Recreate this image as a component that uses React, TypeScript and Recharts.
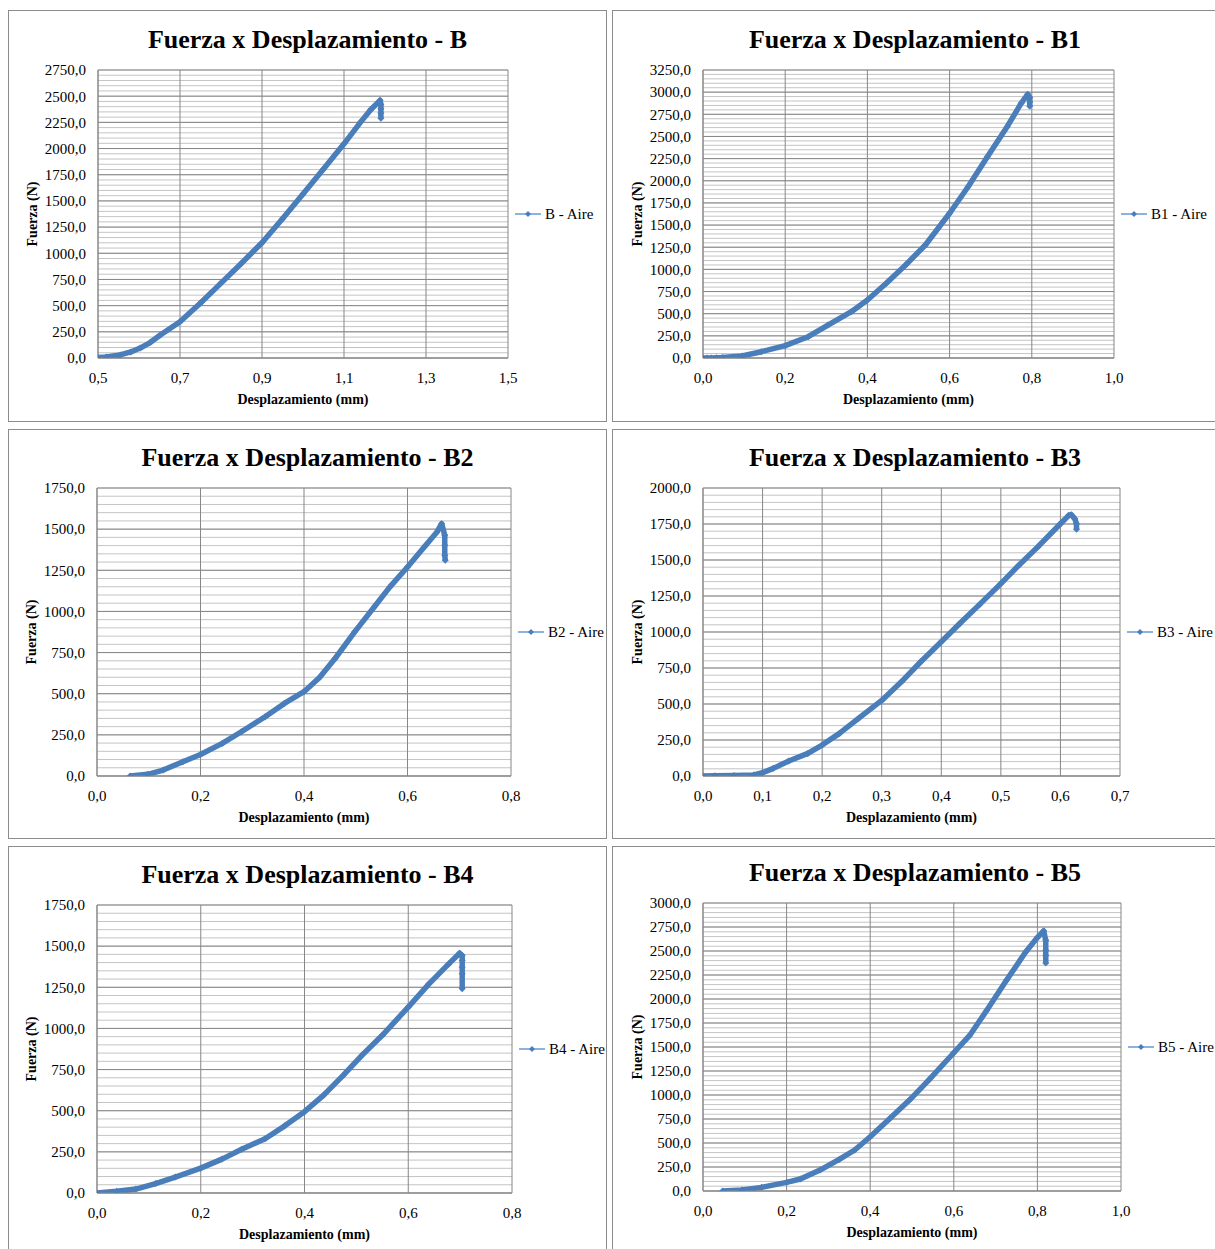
import React from 'react';
import { CartesianGrid, Legend, Line, LineChart, XAxis, YAxis } from 'recharts';

const FONT = '"Liberation Serif", "Times New Roman", serif';
const BLUE = '#4a7ebb';
const LIGHT_BLUE = '#8eb2de';
const MAJOR = '#878787';
const MINOR = '#c4c4c4';

// values (displacement in mm, force in N)
const bX = [0.5, 0.52, 0.554, 0.58, 0.603, 0.628, 0.652, 0.7, 0.75, 0.8, 0.85, 0.9, 0.95, 1.0, 1.05, 1.1, 1.14, 1.165, 1.188, 1.19, 1.19, 1.19, 1.19];
const bF = [5, 10, 29, 58, 95, 150, 220, 347, 525, 715, 905, 1101, 1330, 1565, 1805, 2045, 2250, 2370, 2460, 2420, 2380, 2340, 2290];

const b1X = [0, 0.01, 0.02, 0.033, 0.047, 0.095, 0.142, 0.2, 0.256, 0.304, 0.361, 0.4, 0.446, 0.493, 0.541, 0.6, 0.645, 0.692, 0.74, 0.774, 0.79, 0.795, 0.795, 0.795];
const b1F = [0, 0, 0, 3, 5, 23, 71, 139, 240, 372, 523, 655, 843, 1050, 1275, 1633, 1933, 2272, 2610, 2874, 2976, 2940, 2890, 2840];

const b2X = [0.064, 0.098, 0.128, 0.166, 0.2, 0.242, 0.279, 0.325, 0.362, 0.4, 0.43, 0.46, 0.498, 0.536, 0.566, 0.6, 0.634, 0.657, 0.666, 0.672, 0.672, 0.672, 0.673];
const b2F = [0, 10, 36, 87, 131, 198, 269, 360, 441, 512, 599, 714, 876, 1028, 1149, 1270, 1398, 1483, 1533, 1463, 1402, 1341, 1311];

const b3X = [0, 0.02, 0.052, 0.085, 0.1, 0.118, 0.144, 0.176, 0.2, 0.229, 0.261, 0.3, 0.333, 0.366, 0.4, 0.431, 0.464, 0.5, 0.529, 0.562, 0.6, 0.614, 0.618, 0.624, 0.627, 0.627];
const b3F = [0, 1, 3, 7, 23, 53, 104, 157, 215, 296, 400, 525, 654, 795, 932, 1059, 1190, 1336, 1459, 1591, 1752, 1810, 1815, 1787, 1752, 1713];

const b4X = [0, 0.038, 0.075, 0.113, 0.151, 0.2, 0.241, 0.279, 0.324, 0.362, 0.4, 0.437, 0.475, 0.512, 0.55, 0.6, 0.64, 0.678, 0.699, 0.704, 0.704, 0.704, 0.704, 0.704];
const b4F = [0, 10, 24, 57, 97, 151, 206, 266, 330, 408, 494, 595, 716, 841, 958, 1130, 1271, 1392, 1457, 1443, 1413, 1372, 1332, 1241];

const b5X = [0.047, 0.093, 0.14, 0.2, 0.233, 0.28, 0.326, 0.363, 0.4, 0.447, 0.494, 0.54, 0.6, 0.638, 0.679, 0.726, 0.772, 0.8, 0.815, 0.82, 0.82, 0.82, 0.82];
const b5F = [0, 10, 38, 90, 125, 218, 329, 427, 565, 756, 947, 1155, 1440, 1620, 1883, 2195, 2490, 2640, 2709, 2611, 2507, 2455, 2376];

const xTicksB = [0.5, 0.7, 0.9, 1.1, 1.3, 1.5];
const xTicks10 = [0, 0.2, 0.4, 0.6, 0.8, 1.0];
const xTicks08 = [0, 0.2, 0.4, 0.6, 0.8];
const xTicks07 = [0, 0.1, 0.2, 0.3, 0.4, 0.5, 0.6, 0.7];

const names = ['B', 'B1', 'B2', 'B3', 'B4', 'B5'];
const yMaxes = [2750, 3250, 1750, 2000, 1750, 3000];

const series = [
  { xs: bX, fs: bF, xTicks: xTicksB },
  { xs: b1X, fs: b1F, xTicks: xTicks10 },
  { xs: b2X, fs: b2F, xTicks: xTicks08 },
  { xs: b3X, fs: b3F, xTicks: xTicks07 },
  { xs: b4X, fs: b4F, xTicks: xTicks08 },
  { xs: b5X, fs: b5F, xTicks: xTicks10 },
];

// page geometry: panel box and plot area [left, right, top, bottom], title centre y
const layouts = [
  { left: 8, top: 10, width: 599, height: 412, plot: [98, 508, 70, 358], titleY: 40 },
  { left: 612, top: 10, width: 606, height: 412, plot: [703, 1114, 70, 358], titleY: 40 },
  { left: 8, top: 429, width: 599, height: 410, plot: [97, 511, 488, 776], titleY: 458 },
  { left: 612, top: 429, width: 606, height: 410, plot: [703, 1120, 488, 776], titleY: 458 },
  { left: 8, top: 846, width: 599, height: 410, plot: [97, 512, 905, 1193], titleY: 875 },
  { left: 612, top: 846, width: 606, height: 410, plot: [703, 1121, 903, 1191], titleY: 873 },
];

const fmt = (v: number) => v.toFixed(1).replace('.', ',');

const range = (max: number, step: number) => {
  const out: number[] = [];
  for (let v = 0; v <= max + 0.001; v += step) out.push(v);
  return out;
};

const Diamond = (props: any) => {
  const { cx, cy, index } = props;
  if (cx == null || cy == null) return <g key={index} />;
  return <path key={index} d={`M${cx},${cy - 3.5} L${cx + 3.5},${cy} L${cx},${cy + 3.5} L${cx - 3.5},${cy} Z`} fill={BLUE} />;
};

function Panel({ idx }: { idx: number }) {
  const lay = layouts[idx];
  const s = series[idx];
  const name = names[idx];
  const yMax = yMaxes[idx];
  const data = s.xs.map((x, i) => ({ x, f: s.fs[i] }));

  const innerLeft = lay.left + 1;
  const innerTop = lay.top + 1;
  const W = lay.width - 2;
  const H = lay.height - 2;
  const [pl, pr, pt, pb] = lay.plot;
  const yAxisW = pl - innerLeft;
  const xAxisH = innerTop + H - pb;
  const majorY = range(yMax, 250);
  const minorY = range(yMax, 50);
  const xMin = s.xTicks[0];
  const xMax = s.xTicks[s.xTicks.length - 1];
  const tickStyle = { fontSize: 15, fill: '#000', fontFamily: FONT };
  const labelStyle = { fontSize: 14, fontWeight: 700, fill: '#000', fontFamily: FONT, textAnchor: 'middle' as const };

  return (
    <div
      style={{
        position: 'absolute',
        left: lay.left,
        top: lay.top,
        width: lay.width,
        height: lay.height,
        border: '1px solid #8c8c8c',
        boxSizing: 'border-box',
        background: '#fff',
      }}
    >
      <div
        style={{
          position: 'absolute',
          left: 0,
          top: lay.titleY - innerTop - 15,
          width: W,
          textAlign: 'center',
          fontFamily: FONT,
          fontWeight: 700,
          fontSize: 26,
          lineHeight: '30px',
          color: '#000',
          zIndex: 2,
        }}
      >
        {`Fuerza x Desplazamiento - ${name}`}
      </div>
      <LineChart
        width={W}
        height={H}
        data={data}
        margin={{ top: pt - innerTop, right: innerLeft + W - pr, left: 0, bottom: 0 }}
      >
        <CartesianGrid horizontalValues={minorY} vertical={false} stroke={MINOR} strokeWidth={1} />
        <CartesianGrid horizontalValues={majorY} verticalValues={s.xTicks} stroke={MAJOR} strokeWidth={1} />
        <XAxis
          type="number"
          dataKey="x"
          domain={[xMin, xMax]}
          ticks={s.xTicks}
          interval={0}
          allowDataOverflow
          tickFormatter={fmt}
          tick={tickStyle}
          tickLine={false}
          tickMargin={8}
          axisLine={{ stroke: MAJOR }}
          height={xAxisH}
          label={{ value: 'Desplazamiento (mm)', position: 'insideBottom', offset: innerTop + H - pb - 46, style: labelStyle }}
        />
        <YAxis
          type="number"
          domain={[0, yMax]}
          ticks={majorY}
          interval={0}
          allowDataOverflow
          tickFormatter={fmt}
          tick={tickStyle}
          tickLine={false}
          tickMargin={6}
          axisLine={{ stroke: MAJOR }}
          width={yAxisW}
          label={{ value: 'Fuerza (N)', angle: -90, position: 'insideLeft', offset: pl - 66 - innerLeft, style: labelStyle }}
        />
        <Legend
          layout="vertical"
          align="center"
          verticalAlign="middle"
          wrapperStyle={{ left: pr + 7 - innerLeft, top: (pt + pb) / 2 - innerTop - 10, width: 130, height: 20 }}
          content={() => (
            <div style={{ display: 'flex', alignItems: 'center', fontFamily: FONT, fontSize: 15, color: '#000', whiteSpace: 'nowrap', height: 20 }}>
              <svg width={26} height={10} style={{ display: 'block' }}>
                <line x1={0} y1={5} x2={26} y2={5} stroke={LIGHT_BLUE} strokeWidth={2} />
                <path d="M13,2 L16,5 L13,8 L10,5 Z" fill={BLUE} />
              </svg>
              <span style={{ marginLeft: 4 }}>{`${name} - Aire`}</span>
            </div>
          )}
        />
        <Line
          type="linear"
          dataKey="f"
          name={`${name} - Aire`}
          stroke={BLUE}
          strokeWidth={5.5}
          strokeLinejoin="round"
          dot={<Diamond />}
          activeDot={false}
          isAnimationActive={false}
        />
      </LineChart>
    </div>
  );
}

export default function App() {
  return (
    <div
      style={{
        position: 'absolute',
        left: 0,
        top: 0,
        width: 1215,
        height: 1249,
        overflow: 'hidden',
        background: '#fff',
      }}
    >
      {names.map((n, i) => (
        <Panel key={n} idx={i} />
      ))}
    </div>
  );
}
